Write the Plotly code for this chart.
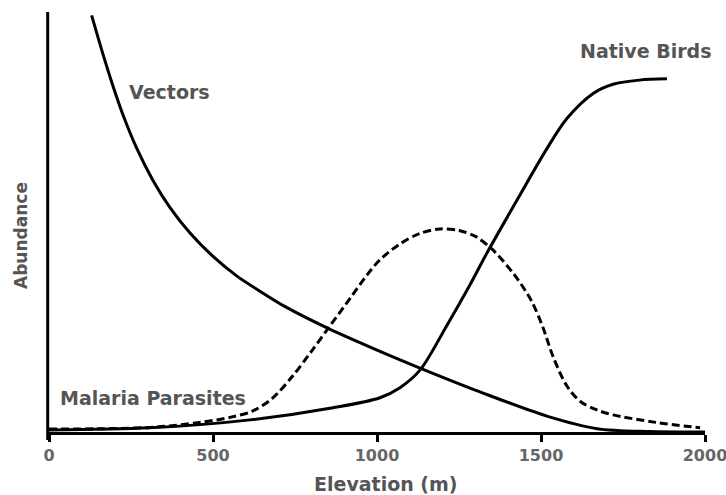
import plotly.graph_objects as go

# Elevation (m) and relative abundance for each group
vec_x = [130, 165, 195, 226, 268, 317, 369, 430, 500, 573, 643, 720, 851, 1009, 1131, 1314, 1518, 1671, 1832, 2000]
vec_y = [99.7, 90.3, 82.8, 75.8, 67.8, 60.2, 53.7, 47.6, 42.0, 37.3, 33.7, 30.0, 24.8, 19.3, 15.3, 9.6, 3.8, 0.8, 0.1, 0.0]

bird_x = [0, 308, 613, 866, 1009, 1070, 1131, 1213, 1284, 1335, 1427, 1518, 1579, 1659, 1720, 1800, 1884]
bird_y = [0.5, 1.0, 2.9, 5.8, 8.2, 10.6, 14.8, 25.5, 35.3, 42.8, 55.5, 67.8, 75.0, 81.0, 83.2, 84.2, 84.5]

mal_x = [0, 308, 460, 552, 620, 680, 744, 800, 851, 918, 970, 1009, 1070, 1130, 1192, 1250, 1300,
         1350, 1415, 1470, 1506, 1537, 1579, 1620, 1670, 1720, 1850, 1985]
mal_y = [0.7, 1.1, 2.3, 3.5, 5.0, 8.0, 13.5, 19.3, 24.8, 32.0, 37.6, 41.2, 45.0, 47.5, 48.6, 48.2, 46.8,
         43.8, 38.0, 31.5, 25.0, 18.0, 11.0, 7.3, 5.3, 4.1, 2.3, 1.0]

x_ticks = [0, 500, 1000, 1500, 2000]

FONT = "DejaVu Sans"
TEXT_GRAY = "#555555"

fig = go.Figure()
fig.add_trace(go.Scatter(x=vec_x, y=vec_y, mode="lines",
                         line=dict(color="black", width=3, shape="spline", smoothing=0.9)))
fig.add_trace(go.Scatter(x=bird_x, y=bird_y, mode="lines",
                         line=dict(color="black", width=3, shape="spline", smoothing=0.9)))
fig.add_trace(go.Scatter(x=mal_x, y=mal_y, mode="lines",
                         line=dict(color="black", width=3, dash="8px,4px", shape="spline", smoothing=0.9)))

label_font = dict(family=FONT, size=19, color=TEXT_GRAY, weight="bold")
fig.add_annotation(x=366, y=81.3, text="Vectors", showarrow=False, font=label_font,
                   xanchor="center", yanchor="middle")
fig.add_annotation(x=1819, y=91.2, text="Native Birds", showarrow=False, font=label_font,
                   xanchor="center", yanchor="middle")
fig.add_annotation(x=27, y=8.1, text="Malaria Parasites", showarrow=False, font=label_font,
                   xanchor="left", yanchor="middle")

# axis titles
fig.add_annotation(x=1027, xref="x", y=-0.124, yref="paper", text="Elevation (m)", showarrow=False,
                   font=dict(family=FONT, size=19, color=TEXT_GRAY, weight="bold"),
                   xanchor="center", yanchor="middle")
fig.add_annotation(x=-0.043, xref="paper", y=47.1, yref="y", text="Abundance", textangle=-90,
                   showarrow=False, font=dict(family=FONT, size=17, color=TEXT_GRAY, weight="bold"),
                   xanchor="center", yanchor="middle")

# vertical axis line running slightly past the baseline
fig.add_shape(type="line", xref="paper", yref="paper", x0=-0.002, x1=-0.002, y0=-0.019, y1=1.0,
              line=dict(color="black", width=3))

fig.update_layout(
    width=726, height=495,
    margin=dict(l=49, r=21, t=12, b=63, autoexpand=False),
    plot_bgcolor="white", paper_bgcolor="white",
    showlegend=False,
    font=dict(family=FONT, color=TEXT_GRAY),
)
fig.update_xaxes(
    range=[0, 2000], tickvals=x_ticks, ticktext=[str(v) for v in x_ticks],
    ticks="outside", ticklen=7, tickwidth=3, tickcolor="black",
    showline=True, linecolor="black", linewidth=3, showgrid=False, zeroline=False,
    tickfont=dict(family=FONT, size=16, color="#666666", weight="bold"),
    ticklabeloverflow="allow", automargin=False,
)
fig.update_yaxes(
    range=[0, 100.5], showticklabels=False, ticks="",
    showline=False, showgrid=False, zeroline=False, automargin=False,
)

fig.write_html("out.html")
